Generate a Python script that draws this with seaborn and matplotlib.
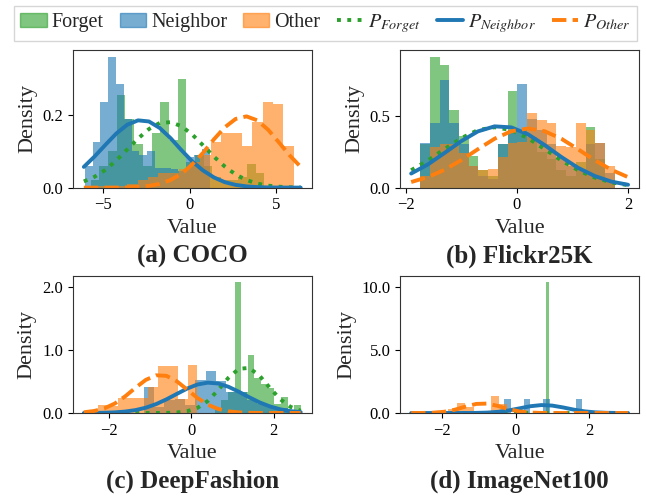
import numpy as np
import matplotlib
matplotlib.use("Agg")
import matplotlib.pyplot as plt
import seaborn as sns
from matplotlib.patches import Patch
from matplotlib.lines import Line2D
from matplotlib.ticker import FormatStrFormatter

# ---- (a) COCO ----
coco_forget_range = (-5.7, 4.3)
coco_forget = [0.02, 0.06, 0.10, 0.255, 0.19, 0.12, 0.06, 0.15, 0.235, 0.13,
               0.30, 0.07, 0.09, 0.06, 0.03, 0.02, 0.02, 0.03, 0.065, 0.04]
coco_neighbor_range = (-6.05, 1.15)
coco_neighbor = [0.06, 0.125, 0.235, 0.36, 0.285, 0.19, 0.10, 0.09, 0.10, 0.055,
                 0.055, 0.05, 0.045, 0.085, 0.09, 0.105]
coco_other_range = (-6.0, 6.0)
coco_other = [0.005, 0.005, 0.005, 0.005, 0.01, 0.02, 0.03, 0.04, 0.04, 0.05,
              0.07, 0.09, 0.125, 0.15, 0.15, 0.115, 0.18, 0.235, 0.23, 0.115]
coco_x = [-6.1, -5.475, -4.85, -4.225, -3.6, -2.975, -2.35, -1.725, -1.1, -0.475, 0.15,
          0.775, 1.4, 2.025, 2.65, 3.275, 3.9, 4.525, 5.15, 5.775, 6.4]
coco_p_forget = [0.017, 0.030, 0.049, 0.075, 0.105, 0.135, 0.161, 0.178, 0.180, 0.169, 0.146,
                 0.116, 0.085, 0.058, 0.036, 0.021, 0.011, 0.0054, 0.0025, 0.001, 0.0004]
coco_p_neighbor = [0.057, 0.086, 0.118, 0.149, 0.173, 0.185, 0.182, 0.164, 0.136, 0.103, 0.072,
                   0.047, 0.028, 0.015, 0.0075, 0.0034, 0.0014, 0.0005, 0.0002, 0.0001, 0.0]
coco_p_other = [0.0, 0.0, 0.0001, 0.0002, 0.0007, 0.0019, 0.0047, 0.0104, 0.021, 0.038, 0.064,
                0.096, 0.133, 0.166, 0.189, 0.196, 0.185, 0.159, 0.124, 0.088, 0.057]

# ---- (b) Flickr25K ----
flickr_range = (-1.74, 1.76)
flickr_forget = [0.30, 0.91, 0.85, 0.54, 0.36, 0.22, 0.12, 0.08, 0.30, 0.67,
                 0.40, 0.35, 0.25, 0.20, 0.12, 0.08, 0.18, 0.42, 0.20, 0.05]
flickr_neighbor = [0.31, 0.45, 0.75, 0.45, 0.30, 0.15, 0.08, 0.06, 0.30, 0.40,
                   0.72, 0.48, 0.40, 0.30, 0.20, 0.15, 0.12, 0.30, 0.31, 0.10]
flickr_other = [0.08, 0.28, 0.30, 0.30, 0.24, 0.15, 0.12, 0.13, 0.21, 0.31,
                0.32, 0.52, 0.47, 0.45, 0.29, 0.28, 0.45, 0.40, 0.31, 0.15]
flickr_x = [-1.9, -1.6, -1.3, -1.0, -0.7, -0.4, -0.1, 0.2, 0.5, 0.8, 1.1, 1.4, 1.7, 2.0]
flickr_p_forget = [0.121, 0.189, 0.268, 0.344, 0.400, 0.420, 0.400, 0.344, 0.268, 0.189,
                   0.121, 0.070, 0.036, 0.017]
flickr_p_neighbor = [0.098, 0.161, 0.241, 0.323, 0.391, 0.426, 0.419, 0.371, 0.296, 0.213,
                     0.138, 0.081, 0.042, 0.020]
flickr_p_other = [0.039, 0.073, 0.124, 0.191, 0.267, 0.340, 0.392, 0.411, 0.392, 0.340,
                  0.267, 0.191, 0.124, 0.073]

# ---- (c) DeepFashion ----
deep_forget_range = (0.57, 2.65)
deep_forget = [0.05, 0.20, 0.33, 2.07, 0.33, 0.92, 0.55, 0.46, 0.40, 0.15, 0.25, 0.05, 0.13]
deep_neighbor_range = (-1.15, 2.6)
deep_neighbor = [0.41, 0.10, 0.20, 0.22, 0.12, 0.52, 0.66, 0.50, 0.33, 0.33,
                 0.20, 0.15, 0.10, 0.08, 0.05]
deep_other_range = (-2.25, 0.15)
deep_other = [0.13, 0.11, 0.24, 0.24, 0.24, 0.41, 0.74, 0.74, 0.22, 0.76]
deep_x = [-2.6, -2.35, -2.1, -1.85, -1.6, -1.35, -1.1, -0.85, -0.6, -0.35, -0.1,
          0.15, 0.4, 0.65, 0.9, 1.15, 1.4, 1.65, 1.9, 2.15, 2.4, 2.65]
deep_p_forget = [0.0, 0.0, 0.0, 0.0, 0.0, 0.0, 0.0, 0.0003, 0.0019, 0.008, 0.028,
                 0.081, 0.190, 0.361, 0.557, 0.699, 0.713, 0.592, 0.400, 0.220, 0.098, 0.036]
deep_p_neighbor = [0.0006, 0.0016, 0.0043, 0.0103, 0.023, 0.046, 0.084, 0.141, 0.216, 0.302, 0.386,
                   0.451, 0.480, 0.467, 0.415, 0.337, 0.250, 0.169, 0.105, 0.059, 0.030, 0.014]
deep_p_other = [0.012, 0.032, 0.074, 0.150, 0.263, 0.399, 0.524, 0.596, 0.588, 0.502, 0.371,
                0.238, 0.132, 0.064, 0.0265, 0.0096, 0.003, 0.001, 0.0002, 0.0, 0.0, 0.0]

# ---- (d) ImageNet100 ----
imnet_forget_range = (0.83, 0.91)
imnet_forget = [10.4]
imnet_neighbor_range = (-0.32, 1.80)
imnet_neighbor = [1.1, 0, 0, 1.1, 0, 0, 1.1, 0, 0, 0, 0, 1.1]
imnet_other_range = (-1.84, -0.23)
imnet_other = [0.30, 0.82, 0.50, 0.15, 0.15, 1.34, 0.70]
imnet_x = [-2.85, -2.555, -2.26, -1.965, -1.67, -1.375, -1.08, -0.785, -0.49, -0.195, 0.1,
           0.395, 0.69, 0.985, 1.28, 1.575, 1.87, 2.165, 2.46, 2.755, 3.05]
imnet_p_forget = [0.0] * 21
imnet_p_neighbor = [0.0, 0.0, 0.0, 0.0, 0.0004, 0.0021, 0.0093, 0.033, 0.091, 0.206, 0.372,
                    0.540, 0.630, 0.590, 0.444, 0.268, 0.130, 0.051, 0.016, 0.004, 0.001]
imnet_p_other = [0.0007, 0.0048, 0.025, 0.094, 0.256, 0.505, 0.722, 0.749, 0.562, 0.306, 0.121,
                 0.035, 0.007, 0.001, 0.0, 0.0, 0.0, 0.0, 0.0, 0.0, 0.0]

panels = [
    ("(a) COCO", [(coco_forget_range, coco_forget), (coco_neighbor_range, coco_neighbor),
                  (coco_other_range, coco_other)],
     coco_x, [coco_p_forget, coco_p_neighbor, coco_p_other], [-5, 0, 5], [0, 0.2]),
    ("(b) Flickr25K", [(flickr_range, flickr_forget), (flickr_range, flickr_neighbor),
                       (flickr_range, flickr_other)],
     flickr_x, [flickr_p_forget, flickr_p_neighbor, flickr_p_other], [-2, 0, 2], [0, 0.5]),
    ("(c) DeepFashion", [(deep_forget_range, deep_forget), (deep_neighbor_range, deep_neighbor),
                         (deep_other_range, deep_other)],
     deep_x, [deep_p_forget, deep_p_neighbor, deep_p_other], [-2, 0, 2], [0, 1, 2]),
    ("(d) ImageNet100", [(imnet_forget_range, imnet_forget), (imnet_neighbor_range, imnet_neighbor),
                         (imnet_other_range, imnet_other)],
     imnet_x, [imnet_p_forget, imnet_p_neighbor, imnet_p_other], [-2, 0, 2], [0, 5, 10]),
]

colors = ["tab:green", "tab:blue", "tab:orange"]
styles = [":", "-", "--"]

sns.set_style("ticks")
plt.rcParams["font.family"] = ["Liberation Serif", "DejaVu Serif"]
plt.rcParams["mathtext.fontset"] = "stix"
plt.rcParams["axes.edgecolor"] = "#333333"
plt.rcParams["xtick.major.size"] = 3.5
plt.rcParams["ytick.major.size"] = 3.5
plt.rcParams["xtick.color"] = "black"
plt.rcParams["ytick.color"] = "black"

fig, axes = plt.subplots(2, 2, figsize=(6.46, 4.97), dpi=100)
fig.subplots_adjust(left=0.113, right=0.989, top=0.899, bottom=0.169, wspace=0.372, hspace=0.64)

for ax, (title, hists, cx, curves, xt, yt) in zip(axes.flat, panels):
    for ((lo, hi), h), c in zip(hists, colors):
        edges = np.linspace(lo, hi, len(h) + 1)
        centers = (edges[:-1] + edges[1:]) / 2
        sns.histplot(x=centers, weights=h, bins=len(h), binrange=(lo, hi), stat="count",
                     color=c, alpha=0.6, linewidth=0, ax=ax)
    for y, c, ls in zip(curves, colors, styles):
        sns.lineplot(x=cx, y=y, color=c, linestyle=ls, linewidth=2.8, ax=ax)
    ax.set_xticks(xt)
    ax.set_yticks(yt)
    ax.yaxis.set_major_formatter(FormatStrFormatter("%.1f"))
    ax.tick_params(labelsize=12)
    ax.set_xlabel("Value", fontsize=16)
    ax.set_ylabel("Density", fontsize=16)
    ax.text(0.5, -0.50, title, transform=ax.transAxes, ha="center", va="center",
            fontsize=18, fontweight="bold")

handles = [Patch(facecolor=c, edgecolor=c, alpha=0.6) for c in colors]
handles += [Line2D([], [], color=c, linestyle=ls, linewidth=2.8) for c, ls in zip(colors, styles)]
labels = ["Forget", "Neighbor", "Other", "$P_{Forget}$", "$P_{Neighbor}$", "$P_{Other}$"]
fig.legend(handles, labels, loc="upper center", bbox_to_anchor=(0.504, 0.988), ncol=6,
           fontsize=14.5, handlelength=1.3, handletextpad=0.25, columnspacing=0.8,
           borderpad=0.3, borderaxespad=0.0, fancybox=False, edgecolor="#cccccc")

fig.savefig("out.png", dpi=100)
